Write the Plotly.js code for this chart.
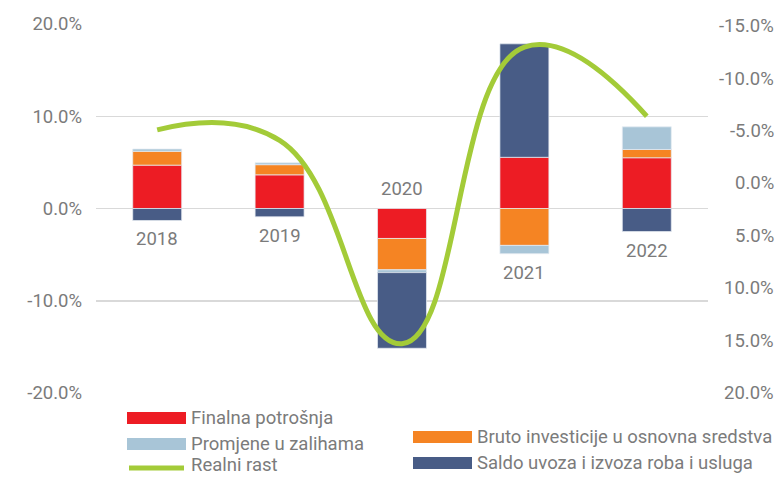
<!DOCTYPE html>
<html>
<head>
<meta charset="utf-8">
<script src="https://cdn.plot.ly/plotly-3.0.1.min.js"></script>
<style>html,body{margin:0;padding:0;background:#fff;}</style>
</head>
<body>
<div id="chart" style="width:777px;height:477px;"></div>
<script>
// ---- data ----
const years = ['2018', '2019', '2020', '2021', '2022'];
const finalnaPotrosnja = [4.7, 3.65, -3.25, 5.55, 5.5];
const brutoInvesticije = [1.5, 1.1, -3.4, -4.0, 0.9];
const promjeneZalihe = [0.25, 0.2, -0.3, -0.9, 2.45];
const saldoUvozIzvoz = [-1.3, -0.9, -8.2, 12.3, -2.5];
const realniRast = [5.1, 4.1, -15.3, 13.0, 6.4];

const leftTicks = [-20, -10, 0, 10, 20];
const rightTicks = [15, 10, 5, 0, -5, -10, -15, -20];

const names = ['Finalna potrošnja', 'Bruto investicije u osnovna sredstva', 'Promjene u zalihama', 'Saldo uvoza i izvoza roba i usluga', 'Realni rast'];
const colors = {red: '#ED1C24', orange: '#F58423', light: '#A8C5D7', navy: '#485C86', green: '#A3CB38'};

// ---- geometry helpers ----
const W = 777, H = 477;
const M = {l: 96, r: 69, t: 24, b: 84};
const PW = W - M.l - M.r, PH = H - M.t - M.b;
const px2x = p => (p - M.l) / PW;
const py2y = p => (H - M.b - p) / PH;

const txtColor = '#7b7b7b';
const FONT = 'Roboto, "Open Sans", sans-serif';
const FS = 18.5;
const fmt = v => v.toFixed(1) + '%';

const barLine = {color: 'rgba(230,236,242,0.9)', width: 0.8};
const mkBar = (y, name, color) => ({
  type: 'bar', x: years, y: y, name: name, marker: {color: color, line: barLine},
  showlegend: false, hoverinfo: 'x+y+name'
});

const traces = [
  mkBar(finalnaPotrosnja, names[0], colors.red),
  mkBar(brutoInvesticije, names[1], colors.orange),
  mkBar(promjeneZalihe, names[2], colors.light),
  mkBar(saldoUvozIzvoz, names[3], colors.navy),
  {
    type: 'scatter', mode: 'lines', x: years, y: realniRast, name: names[4], yaxis: 'y2',
    line: {color: colors.green, width: 5, shape: 'spline', smoothing: 1.3}, showlegend: false
  }
];

const annotations = [];
// category labels placed next to the bar stacks
years.forEach((yr, i) => {
  const vals = [finalnaPotrosnja[i], brutoInvesticije[i], promjeneZalihe[i], saldoUvozIzvoz[i]];
  const pos = vals.filter(v => v > 0).reduce((a, b) => a + b, 0);
  const neg = vals.filter(v => v < 0).reduce((a, b) => a + b, 0);
  if (pos > 0) {
    annotations.push({x: i, y: neg, xref: 'x', yref: 'y', text: yr, showarrow: false,
      yanchor: 'top', yshift: -6, font: {family: FONT, size: FS, color: txtColor}});
  } else {
    annotations.push({x: i, y: 0, xref: 'x', yref: 'y', text: yr, showarrow: false,
      yanchor: 'bottom', yshift: 7, font: {family: FONT, size: FS, color: txtColor}});
  }
});
// right axis labels (right aligned, sign-inverted display)
rightTicks.forEach(v => {
  annotations.push({x: px2x(776), xref: 'paper', y: v, yref: 'y2', text: fmt(-v === 0 ? 0 : -v),
    showarrow: false, xanchor: 'right', yanchor: 'middle', font: {family: FONT, size: FS, color: txtColor}});
});

// custom legend
const shapes = [];
const legendItems = [
  {name: names[0], color: colors.red, kind: 'rect', sx: 127, tx: 189, cy: 418, ty: 418},
  {name: names[2], color: colors.light, kind: 'rect', sx: 127, tx: 189, cy: 444, ty: 444},
  {name: names[4], color: colors.green, kind: 'line', sx: 127, tx: 189, cy: 468, ty: 465},
  {name: names[1], color: colors.orange, kind: 'rect', sx: 413, tx: 475, cy: 437, ty: 437},
  {name: names[3], color: colors.navy, kind: 'rect', sx: 413, tx: 475, cy: 463, ty: 463}
];
legendItems.forEach(it => {
  if (it.kind === 'rect') {
    shapes.push({type: 'rect', xref: 'paper', yref: 'paper', x0: px2x(it.sx), x1: px2x(it.sx + 59),
      y0: py2y(it.cy + 6), y1: py2y(it.cy - 6), fillcolor: it.color, line: {width: 0}});
  } else {
    shapes.push({type: 'line', xref: 'paper', yref: 'paper', x0: px2x(it.sx + 2), x1: px2x(it.sx + 57),
      y0: py2y(it.cy), y1: py2y(it.cy), line: {color: it.color, width: 5}});
  }
  annotations.push({x: px2x(it.tx), xref: 'paper', y: py2y(it.ty), yref: 'paper', text: it.name,
    showarrow: false, xanchor: 'left', yanchor: 'middle',
    font: {family: FONT, size: FS, color: txtColor}});
});

const layout = {
  width: W, height: H, margin: M,
  paper_bgcolor: '#fff', plot_bgcolor: '#fff',
  barmode: 'relative', bargap: 0.6,
  font: {family: FONT, size: FS, color: txtColor},
  xaxis: {type: 'category', range: [-0.5, 4.5], showticklabels: false, showgrid: false, zeroline: false, showline: false, fixedrange: true},
  yaxis: {range: [-20, 20], tickvals: leftTicks, ticktext: leftTicks.map(fmt), showgrid: true,
    gridcolor: '#d9d9d9', gridwidth: 1.5, zeroline: false, showline: false, ticks: '',
    ticklabelstandoff: 13, tickfont: {family: FONT, size: FS, color: txtColor}},
  yaxis2: {range: [-20, 15.2], overlaying: 'y', side: 'right', showgrid: false, zeroline: false,
    showline: false, showticklabels: false, ticks: ''},
  showlegend: false,
  shapes: shapes,
  annotations: annotations
};

Plotly.newPlot('chart', traces, layout, {displayModeBar: false, staticPlot: true});
</script>
</body>
</html>
